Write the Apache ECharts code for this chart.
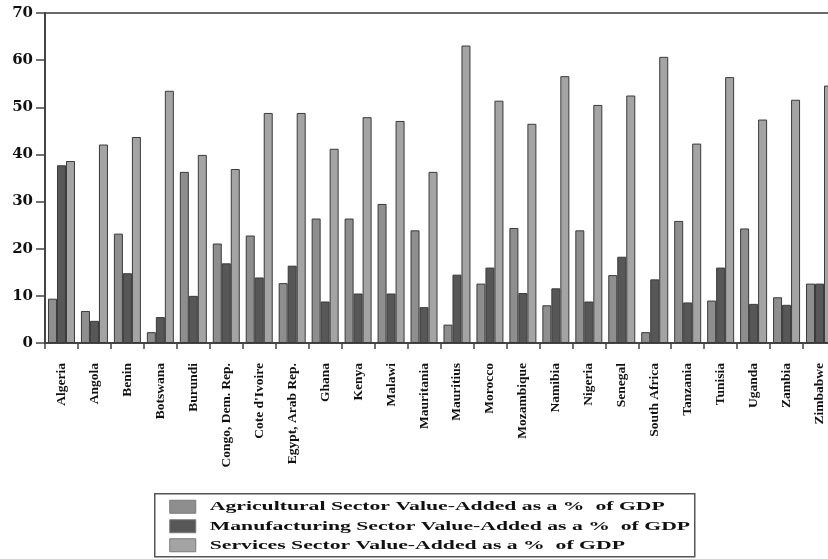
<!DOCTYPE html>
<html>
<head>
<meta charset="utf-8">
<script src="https://cdn.jsdelivr.net/npm/echarts@6/dist/echarts.min.js"></script>
<style>
  html, body { margin: 0; padding: 0; background: #fff; }
  #chart { width: 828px; height: 559px; }
</style>
</head>
<body>
<div id="chart"></div>
<script>
// Sector value-added shares of GDP for African economies (% of GDP)
const countries = [
  'Algeria', 'Angola', 'Benin', 'Botswana', 'Burundi', 'Congo, Dem. Rep.',
  "Cote d'Ivoire", 'Egypt, Arab Rep.', 'Ghana', 'Kenya', 'Malawi', 'Mauritania',
  'Mauritius', 'Morocco', 'Mozambique', 'Namibia', 'Nigeria', 'Senegal',
  'South Africa', 'Tanzania', 'Tunisia', 'Uganda', 'Zambia', 'Zimbabwe'
];

const agriculture = [
  9.4, 6.8, 23.2, 2.3, 36.3, 21.1,
  22.8, 12.7, 26.4, 26.4, 29.5, 23.9,
  3.9, 12.6, 24.4, 8.0, 23.9, 14.4,
  2.3, 25.9, 9.0, 24.3, 9.7, 12.6
];

const manufacturing = [
  37.7, 4.7, 14.8, 5.5, 10.0, 16.9,
  13.9, 16.4, 8.8, 10.5, 10.5, 7.6,
  14.5, 16.0, 10.6, 11.6, 8.8, 18.3,
  13.5, 8.6, 16.0, 8.3, 8.1, 12.6
];

const services = [
  38.6, 42.1, 43.7, 53.5, 39.9, 36.9,
  48.8, 48.8, 41.2, 47.9, 47.1, 36.3,
  63.1, 51.4, 46.5, 56.6, 50.5, 52.5,
  60.7, 42.3, 56.4, 47.4, 51.6, 54.6
];

const seriesNames = [
  'Agricultural Sector Value-Added as a %  of GDP',
  'Manufacturing Sector Value-Added as a %  of GDP',
  'Services Sector Value-Added as a %  of GDP'
];

const yTicks = { min: 0, max: 70, interval: 10 };

const fills = ['#8e8e8e', '#575757', '#a4a4a4'];
const serif = "'Liberation Serif', 'Times New Roman', serif";

const chart = echarts.init(document.getElementById('chart'), null, { renderer: 'canvas' });

function barSeries(name, values, color) {
  return {
    name: name,
    type: 'bar',
    data: values,
    barWidth: 9,
    barGap: '0%',
    itemStyle: { color: color, borderColor: '#3a3a3a', borderWidth: 1 },
    emphasis: { disabled: true }
  };
}

// Legend box drawn as a graphic group; the key text is widened to a wide, bold look
const legendFont = 'bold 13.5px ' + serif;
const measureCtx = document.createElement('canvas').getContext('2d');
measureCtx.font = legendFont;
const legendStretch = 455 / measureCtx.measureText(seriesNames[0]).width;

const legendBox = { x: 154, y: 493, w: 540, h: 63 };
const legendRowY = [13, 32.5, 51.5];

const legendChildren = [{
  type: 'rect',
  shape: { x: 0, y: 0, width: legendBox.w, height: legendBox.h },
  style: { fill: '#fff', stroke: '#555', lineWidth: 1.5 }
}];
seriesNames.forEach(function (name, i) {
  legendChildren.push({
    type: 'rect',
    shape: { x: 15, y: legendRowY[i] - 6.5, width: 26, height: 13 },
    style: { fill: fills[i], stroke: '#7a7a7a', lineWidth: 1 }
  });
  legendChildren.push({
    type: 'text',
    x: 55, y: legendRowY[i],
    scaleX: legendStretch,
    style: {
      text: name, font: legendFont, fill: '#111',
      textAlign: 'left', textVerticalAlign: 'middle'
    }
  });
});

chart.setOption({
  animation: false,
  backgroundColor: '#ffffff',
  grid: {
    left: 45, width: 791, top: 13, bottom: 216,
    outerBoundsMode: 'none',
    show: true, borderColor: '#6a6a6a', borderWidth: 2, backgroundColor: 'transparent'
  },
  xAxis: {
    type: 'category',
    data: countries,
    axisLine: { lineStyle: { color: '#444', width: 2 } },
    axisTick: { show: true, length: 6, lineStyle: { color: '#444', width: 1.5 } },
    axisLabel: {
      rotate: 90, interval: 0, margin: 20,
      color: '#111', fontFamily: serif, fontWeight: 'bold', fontSize: 13.5
    }
  },
  yAxis: {
    type: 'value',
    min: yTicks.min, max: yTicks.max, interval: yTicks.interval,
    axisLine: { show: true, lineStyle: { color: '#444', width: 2 } },
    axisTick: { show: true, length: 9, lineStyle: { color: '#444', width: 1.5 } },
    splitLine: { show: false },
    axisLabel: {
      margin: 12, color: '#111',
      fontFamily: "'DejaVu Serif', serif", fontWeight: 'bold', fontSize: 15
    }
  },
  graphic: [{
    type: 'group',
    left: legendBox.x, top: legendBox.y,
    children: legendChildren
  }],
  series: [
    barSeries(seriesNames[0], agriculture, fills[0]),
    barSeries(seriesNames[1], manufacturing, fills[1]),
    barSeries(seriesNames[2], services, fills[2])
  ]
});
</script>
</body>
</html>
